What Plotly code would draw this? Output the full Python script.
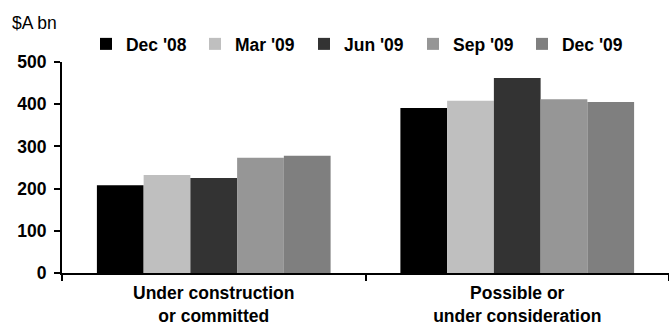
import plotly.graph_objects as go

# Value of projects by stage, $A bn
categories = ["Under construction<br>or committed", "Possible or<br>under consideration"]
series_names = ["Dec '08", "Mar '09", "Jun '09", "Sep '09", "Dec '09"]
dec_08 = [208, 391]
mar_09 = [232, 408]
jun_09 = [225, 462]
sep_09 = [273, 412]
dec_09 = [278, 405]
y_ticks = [0, 100, 200, 300, 400, 500]

series_values = [dec_08, mar_09, jun_09, sep_09, dec_09]
colors = ["#000000", "#bfbfbf", "#333333", "#969696", "#7f7f7f"]

FONT = "Liberation Sans, Arial, sans-serif"

fig = go.Figure()
for name, vals, col in zip(series_names, series_values, colors):
    fig.add_trace(go.Bar(
        x=categories, y=vals, name=name,
        marker=dict(color=col, line=dict(width=0)),
    ))

fig.update_layout(
    width=669, height=328,
    margin=dict(l=62, r=0, t=62, b=55),
    paper_bgcolor="white", plot_bgcolor="white",
    barmode="group", bargap=0.23, bargroupgap=0,
    font=dict(family=FONT, size=17.5, color="#000000"),
    showlegend=True,
    legend=dict(
        orientation="h", x=0.0395, y=1.0, xanchor="left", yanchor="bottom",
        font=dict(family=FONT, size=17.5, color="#000000", weight="bold"),
        entrywidth=64, entrywidthmode="pixels",
        bgcolor="rgba(0,0,0,0)", traceorder="normal",
    ),
    annotations=[dict(
        text="$A bn", x=0, y=1, xref="paper", yref="paper",
        xanchor="right", yanchor="middle", xshift=-3, yshift=39,
        showarrow=False, font=dict(family=FONT, size=17.5, color="#000000"),
    )],
)

fig.update_xaxes(
    type="category", range=[-0.5, 1.5],
    showline=True, linecolor="#000000", linewidth=2,
    ticks="outside", tickson="boundaries", ticklen=6, tickwidth=2, tickcolor="#000000",
    ticklabelstandoff=3,
    showgrid=False, zeroline=False,
    tickfont=dict(family=FONT, size=17.5, color="#000000", weight="bold"),
)
fig.update_yaxes(
    range=[0, 500], tickvals=y_ticks,
    showline=True, linecolor="#000000", linewidth=2,
    ticks="outside", ticklen=6, tickwidth=2, tickcolor="#000000",
    ticklabelstandoff=4,
    showgrid=False, zeroline=False,
    tickfont=dict(family=FONT, size=17.5, color="#000000", weight="bold"),
)

fig.write_html("out.html")
